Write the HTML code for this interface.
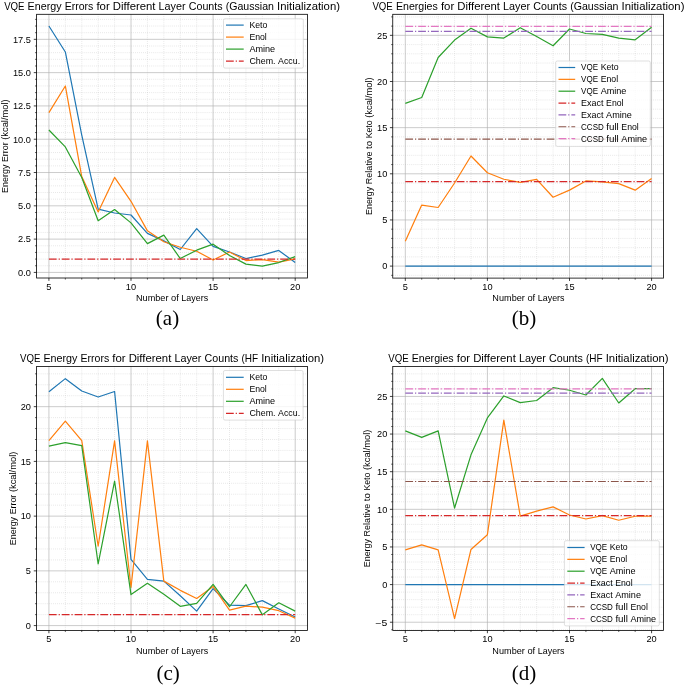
<!DOCTYPE html>
<html><head><meta charset="utf-8"><title>VQE Energy Errors</title>
<style>
html,body{margin:0;padding:0;background:#fff;}
body{width:685px;height:685px;overflow:hidden;}
svg{display:block;font-family:"Liberation Sans",sans-serif;will-change:transform;}
</style></head><body>
<svg width="685" height="685" viewBox="0 0 685 685">
<rect width="685" height="685" fill="#fff"/>
<clipPath id="c36_14"><rect x="36.6" y="14.3" width="270.9" height="263.7"/></clipPath>
<path d="M65.33 14.30V278.00M81.75 14.30V278.00M98.17 14.30V278.00M114.59 14.30V278.00M147.42 14.30V278.00M163.84 14.30V278.00M180.26 14.30V278.00M196.68 14.30V278.00M229.51 14.30V278.00M245.93 14.30V278.00M262.35 14.30V278.00M278.77 14.30V278.00M36.60 265.75H307.50M36.60 259.09H307.50M36.60 252.43H307.50M36.60 245.77H307.50M36.60 232.45H307.50M36.60 225.79H307.50M36.60 219.13H307.50M36.60 212.47H307.50M36.60 199.16H307.50M36.60 192.50H307.50M36.60 185.84H307.50M36.60 179.18H307.50M36.60 165.86H307.50M36.60 159.20H307.50M36.60 152.54H307.50M36.60 145.88H307.50M36.60 132.57H307.50M36.60 125.91H307.50M36.60 119.25H307.50M36.60 112.59H307.50M36.60 99.27H307.50M36.60 92.61H307.50M36.60 85.95H307.50M36.60 79.29H307.50M36.60 65.97H307.50M36.60 59.32H307.50M36.60 52.66H307.50M36.60 46.00H307.50M36.60 32.68H307.50M36.60 26.02H307.50M36.60 19.36H307.50" stroke="#b0b0b0" stroke-opacity="0.75" stroke-width="0.55" stroke-dasharray="0.7 1.35" fill="none"/>
<path d="M48.91 14.30V278.00M131.00 14.30V278.00M213.10 14.30V278.00M295.19 14.30V278.00M36.60 272.41H307.50M36.60 239.11H307.50M36.60 205.82H307.50M36.60 172.52H307.50M36.60 139.22H307.50M36.60 105.93H307.50M36.60 72.63H307.50M36.60 39.34H307.50" stroke="#b0b0b0" stroke-width="0.65" fill="none"/>
<g clip-path="url(#c36_14)" fill="none" stroke-width="1.21" stroke-linejoin="round" stroke-linecap="butt">
<polyline points="48.91,26.02 65.33,51.99 81.75,135.23 98.17,209.15 114.59,213.01 131.00,215.01 147.42,233.38 163.84,240.84 180.26,249.50 196.68,228.59 213.10,246.44 229.51,252.03 245.93,258.56 262.35,255.09 278.77,250.43 295.19,262.55" stroke="#1f77b4"/>
<polyline points="48.91,112.59 65.33,85.95 81.75,176.52 98.17,211.94 114.59,177.45 131.00,201.29 147.42,230.85 163.84,241.77 180.26,247.24 196.68,251.23 213.10,260.02 229.51,252.03 245.93,260.55 262.35,259.62 278.77,262.15 295.19,258.95" stroke="#ff7f0e"/>
<polyline points="48.91,130.03 65.33,146.95 81.75,177.58 98.17,220.73 114.59,209.54 131.00,222.86 147.42,243.64 163.84,235.12 180.26,258.56 196.68,250.17 213.10,244.17 229.51,255.49 245.93,264.15 262.35,266.15 278.77,262.55 295.19,256.56" stroke="#2ca02c"/>
<path d="M48.91 259.09H295.19" stroke="#d62728" stroke-dasharray="7.76 1.94 1.21 1.94"/>
</g>
<rect x="36.60" y="14.30" width="270.90" height="263.70" fill="none" stroke="#000" stroke-width="0.8"/>
<path d="M48.91 278.00v2.83M131.00 278.00v2.83M213.10 278.00v2.83M295.19 278.00v2.83M36.60 272.41h-2.83M36.60 239.11h-2.83M36.60 205.82h-2.83M36.60 172.52h-2.83M36.60 139.22h-2.83M36.60 105.93h-2.83M36.60 72.63h-2.83M36.60 39.34h-2.83" stroke="#000" stroke-width="0.75" fill="none"/>
<path d="M65.33 278.00v1.62M81.75 278.00v1.62M98.17 278.00v1.62M114.59 278.00v1.62M147.42 278.00v1.62M163.84 278.00v1.62M180.26 278.00v1.62M196.68 278.00v1.62M229.51 278.00v1.62M245.93 278.00v1.62M262.35 278.00v1.62M278.77 278.00v1.62M36.60 265.75h-1.62M36.60 259.09h-1.62M36.60 252.43h-1.62M36.60 245.77h-1.62M36.60 232.45h-1.62M36.60 225.79h-1.62M36.60 219.13h-1.62M36.60 212.47h-1.62M36.60 199.16h-1.62M36.60 192.50h-1.62M36.60 185.84h-1.62M36.60 179.18h-1.62M36.60 165.86h-1.62M36.60 159.20h-1.62M36.60 152.54h-1.62M36.60 145.88h-1.62M36.60 132.57h-1.62M36.60 125.91h-1.62M36.60 119.25h-1.62M36.60 112.59h-1.62M36.60 99.27h-1.62M36.60 92.61h-1.62M36.60 85.95h-1.62M36.60 79.29h-1.62M36.60 65.97h-1.62M36.60 59.32h-1.62M36.60 52.66h-1.62M36.60 46.00h-1.62M36.60 32.68h-1.62M36.60 26.02h-1.62M36.60 19.36h-1.62" stroke="#000" stroke-width="0.6" fill="none"/>
<g font-size="8.55" fill="#000"><text x="46.34" y="289.95" textLength="5.14" lengthAdjust="spacingAndGlyphs">5</text></g>
<g font-size="8.55" fill="#000"><text x="125.86" y="289.95" textLength="10.28" lengthAdjust="spacingAndGlyphs">10</text></g>
<g font-size="8.55" fill="#000"><text x="207.95" y="289.95" textLength="10.28" lengthAdjust="spacingAndGlyphs">15</text></g>
<g font-size="8.55" fill="#000"><text x="290.05" y="289.95" textLength="10.28" lengthAdjust="spacingAndGlyphs">20</text></g>
<g font-size="8.55" fill="#000"><text x="18.09" y="275.71" textLength="12.85" lengthAdjust="spacingAndGlyphs">0.0</text></g>
<g font-size="8.55" fill="#000"><text x="18.09" y="242.41" textLength="12.85" lengthAdjust="spacingAndGlyphs">2.5</text></g>
<g font-size="8.55" fill="#000"><text x="18.09" y="209.12" textLength="12.85" lengthAdjust="spacingAndGlyphs">5.0</text></g>
<g font-size="8.55" fill="#000"><text x="18.09" y="175.82" textLength="12.85" lengthAdjust="spacingAndGlyphs">7.5</text></g>
<g font-size="8.55" fill="#000"><text x="12.95" y="142.52" textLength="17.99" lengthAdjust="spacingAndGlyphs">10.0</text></g>
<g font-size="8.55" fill="#000"><text x="12.95" y="109.23" textLength="17.99" lengthAdjust="spacingAndGlyphs">12.5</text></g>
<g font-size="8.55" fill="#000"><text x="12.95" y="75.93" textLength="17.99" lengthAdjust="spacingAndGlyphs">15.0</text></g>
<g font-size="8.55" fill="#000"><text x="12.95" y="42.64" textLength="17.99" lengthAdjust="spacingAndGlyphs">17.5</text></g>
<g font-size="10.25" fill="#000"><text x="4.13" y="9.70" textLength="20.40" lengthAdjust="spacingAndGlyphs">VQE</text><text x="27.61" y="9.70" textLength="33.96" lengthAdjust="spacingAndGlyphs">Energy</text><text x="64.65" y="9.70" textLength="28.70" lengthAdjust="spacingAndGlyphs">Errors</text><text x="96.43" y="9.70" textLength="13.34" lengthAdjust="spacingAndGlyphs">for</text><text x="112.86" y="9.70" textLength="42.66" lengthAdjust="spacingAndGlyphs">Different</text><text x="158.59" y="9.70" textLength="27.04" lengthAdjust="spacingAndGlyphs">Layer</text><text x="188.72" y="9.70" textLength="33.86" lengthAdjust="spacingAndGlyphs">Counts</text><text x="225.67" y="9.70" textLength="48.29" lengthAdjust="spacingAndGlyphs">(Gaussian</text><text x="277.04" y="9.70" textLength="62.94" lengthAdjust="spacingAndGlyphs">Initialization)</text></g>
<g font-size="8.55" fill="#000"><text x="135.99" y="301.10" textLength="32.46" lengthAdjust="spacingAndGlyphs">Number</text><text x="171.02" y="301.10" textLength="7.79" lengthAdjust="spacingAndGlyphs">of</text><text x="181.37" y="301.10" textLength="26.74" lengthAdjust="spacingAndGlyphs">Layers</text></g>
<g transform="rotate(-90 8.30 146.15)" font-size="8.55" fill="#000"><text x="-38.46" y="146.15" textLength="28.29" lengthAdjust="spacingAndGlyphs">Energy</text><text x="-7.61" y="146.15" textLength="19.70" lengthAdjust="spacingAndGlyphs">Error</text><text x="14.66" y="146.15" textLength="40.40" lengthAdjust="spacingAndGlyphs">(kcal/mol)</text></g>
<rect x="223.50" y="18.80" width="79.80" height="49.30" rx="1.6" fill="#fff" fill-opacity="0.8" stroke="#ccc" stroke-opacity="0.8" stroke-width="0.8"/>
<path d="M226.00 25.10H243.70" stroke="#1f77b4" stroke-width="1.21" fill="none"/>
<g font-size="8.55" fill="#000"><text x="249.40" y="27.65" textLength="17.98" lengthAdjust="spacingAndGlyphs">Keto</text></g>
<path d="M226.00 37.10H243.70" stroke="#ff7f0e" stroke-width="1.21" fill="none"/>
<g font-size="8.55" fill="#000"><text x="249.40" y="39.65" textLength="17.41" lengthAdjust="spacingAndGlyphs">Enol</text></g>
<path d="M226.00 49.10H243.70" stroke="#2ca02c" stroke-width="1.21" fill="none"/>
<g font-size="8.55" fill="#000"><text x="249.40" y="51.65" textLength="25.74" lengthAdjust="spacingAndGlyphs">Amine</text></g>
<path d="M226.00 61.10H243.70" stroke="#d62728" stroke-width="1.21" stroke-dasharray="7.76 1.94 1.21 1.94" fill="none"/>
<g font-size="8.55" fill="#000"><text x="249.40" y="63.65" textLength="26.17" lengthAdjust="spacingAndGlyphs">Chem.</text><text x="278.14" y="63.65" textLength="21.96" lengthAdjust="spacingAndGlyphs">Accu.</text></g>
<clipPath id="c393_14"><rect x="393.0" y="14.3" width="270.9" height="263.8"/></clipPath>
<path d="M421.73 14.30V278.10M438.15 14.30V278.10M454.57 14.30V278.10M470.99 14.30V278.10M503.82 14.30V278.10M520.24 14.30V278.10M536.66 14.30V278.10M553.08 14.30V278.10M585.91 14.30V278.10M602.33 14.30V278.10M618.75 14.30V278.10M635.17 14.30V278.10M393.00 275.33H663.90M393.00 256.87H663.90M393.00 247.64H663.90M393.00 238.41H663.90M393.00 229.18H663.90M393.00 210.72H663.90M393.00 201.49H663.90M393.00 192.26H663.90M393.00 183.03H663.90M393.00 164.57H663.90M393.00 155.34H663.90M393.00 146.11H663.90M393.00 136.88H663.90M393.00 118.42H663.90M393.00 109.19H663.90M393.00 99.96H663.90M393.00 90.73H663.90M393.00 72.27H663.90M393.00 63.04H663.90M393.00 53.81H663.90M393.00 44.58H663.90M393.00 26.11H663.90M393.00 16.88H663.90" stroke="#b0b0b0" stroke-opacity="0.75" stroke-width="0.55" stroke-dasharray="0.7 1.35" fill="none"/>
<path d="M405.31 14.30V278.10M487.40 14.30V278.10M569.50 14.30V278.10M651.59 14.30V278.10M393.00 266.10H663.90M393.00 219.95H663.90M393.00 173.80H663.90M393.00 127.65H663.90M393.00 81.50H663.90M393.00 35.34H663.90" stroke="#b0b0b0" stroke-width="0.65" fill="none"/>
<g clip-path="url(#c393_14)" fill="none" stroke-width="1.21" stroke-linejoin="round" stroke-linecap="butt">
<polyline points="405.31,266.10 421.73,266.10 438.15,266.10 454.57,266.10 470.99,266.10 487.40,266.10 503.82,266.10 520.24,266.10 536.66,266.10 553.08,266.10 569.50,266.10 585.91,266.10 602.33,266.10 618.75,266.10 635.17,266.10 651.59,266.10" stroke="#1f77b4"/>
<polyline points="405.31,241.27 421.73,205.09 438.15,207.49 454.57,183.03 470.99,155.98 487.40,172.78 503.82,179.24 520.24,182.38 536.66,179.43 553.08,197.24 569.50,190.14 585.91,180.91 602.33,181.92 618.75,183.58 635.17,190.14 651.59,178.41" stroke="#ff7f0e"/>
<polyline points="405.31,103.37 421.73,97.46 438.15,57.50 454.57,40.05 470.99,28.33 487.40,36.91 503.82,38.11 520.24,27.68 536.66,36.54 553.08,45.78 569.50,28.98 585.91,33.50 602.33,34.42 618.75,38.11 635.17,39.78 651.59,27.31" stroke="#2ca02c"/>
<path d="M405.31 181.55H651.59" stroke="#d62728" stroke-dasharray="7.76 1.94 1.21 1.94"/>
<path d="M405.31 31.47H651.59" stroke="#9467bd" stroke-dasharray="7.76 1.94 1.21 1.94"/>
<path d="M405.31 139.09H651.59" stroke="#8c564b" stroke-dasharray="7.76 1.94 1.21 1.94"/>
<path d="M405.31 26.39H651.59" stroke="#e377c2" stroke-dasharray="7.76 1.94 1.21 1.94"/>
</g>
<rect x="392.75" y="14.30" width="270.75" height="263.80" fill="none" stroke="#000" stroke-width="0.8"/>
<path d="M405.31 278.10v2.83M487.40 278.10v2.83M569.50 278.10v2.83M651.59 278.10v2.83M392.75 266.10h-2.83M392.75 219.95h-2.83M392.75 173.80h-2.83M392.75 127.65h-2.83M392.75 81.50h-2.83M392.75 35.34h-2.83" stroke="#000" stroke-width="0.75" fill="none"/>
<path d="M421.73 278.10v1.62M438.15 278.10v1.62M454.57 278.10v1.62M470.99 278.10v1.62M503.82 278.10v1.62M520.24 278.10v1.62M536.66 278.10v1.62M553.08 278.10v1.62M585.91 278.10v1.62M602.33 278.10v1.62M618.75 278.10v1.62M635.17 278.10v1.62M392.75 275.33h-1.62M392.75 256.87h-1.62M392.75 247.64h-1.62M392.75 238.41h-1.62M392.75 229.18h-1.62M392.75 210.72h-1.62M392.75 201.49h-1.62M392.75 192.26h-1.62M392.75 183.03h-1.62M392.75 164.57h-1.62M392.75 155.34h-1.62M392.75 146.11h-1.62M392.75 136.88h-1.62M392.75 118.42h-1.62M392.75 109.19h-1.62M392.75 99.96h-1.62M392.75 90.73h-1.62M392.75 72.27h-1.62M392.75 63.04h-1.62M392.75 53.81h-1.62M392.75 44.58h-1.62M392.75 26.11h-1.62M392.75 16.88h-1.62" stroke="#000" stroke-width="0.6" fill="none"/>
<g font-size="8.55" fill="#000"><text x="402.74" y="290.05" textLength="5.14" lengthAdjust="spacingAndGlyphs">5</text></g>
<g font-size="8.55" fill="#000"><text x="482.26" y="290.05" textLength="10.28" lengthAdjust="spacingAndGlyphs">10</text></g>
<g font-size="8.55" fill="#000"><text x="564.35" y="290.05" textLength="10.28" lengthAdjust="spacingAndGlyphs">15</text></g>
<g font-size="8.55" fill="#000"><text x="646.45" y="290.05" textLength="10.28" lengthAdjust="spacingAndGlyphs">20</text></g>
<g font-size="8.55" fill="#000"><text x="382.20" y="269.40" textLength="5.14" lengthAdjust="spacingAndGlyphs">0</text></g>
<g font-size="8.55" fill="#000"><text x="382.20" y="223.25" textLength="5.14" lengthAdjust="spacingAndGlyphs">5</text></g>
<g font-size="8.55" fill="#000"><text x="377.06" y="177.10" textLength="10.28" lengthAdjust="spacingAndGlyphs">10</text></g>
<g font-size="8.55" fill="#000"><text x="377.06" y="130.95" textLength="10.28" lengthAdjust="spacingAndGlyphs">15</text></g>
<g font-size="8.55" fill="#000"><text x="377.06" y="84.80" textLength="10.28" lengthAdjust="spacingAndGlyphs">20</text></g>
<g font-size="8.55" fill="#000"><text x="377.06" y="38.64" textLength="10.28" lengthAdjust="spacingAndGlyphs">25</text></g>
<g font-size="10.25" fill="#000"><text x="372.43" y="9.70" textLength="20.40" lengthAdjust="spacingAndGlyphs">VQE</text><text x="395.91" y="9.70" textLength="41.94" lengthAdjust="spacingAndGlyphs">Energies</text><text x="440.93" y="9.70" textLength="13.34" lengthAdjust="spacingAndGlyphs">for</text><text x="457.35" y="9.70" textLength="42.66" lengthAdjust="spacingAndGlyphs">Different</text><text x="503.09" y="9.70" textLength="27.04" lengthAdjust="spacingAndGlyphs">Layer</text><text x="533.22" y="9.70" textLength="33.86" lengthAdjust="spacingAndGlyphs">Counts</text><text x="570.16" y="9.70" textLength="48.29" lengthAdjust="spacingAndGlyphs">(Gaussian</text><text x="621.53" y="9.70" textLength="62.94" lengthAdjust="spacingAndGlyphs">Initialization)</text></g>
<g font-size="8.55" fill="#000"><text x="492.39" y="301.20" textLength="32.46" lengthAdjust="spacingAndGlyphs">Number</text><text x="527.42" y="301.20" textLength="7.79" lengthAdjust="spacingAndGlyphs">of</text><text x="537.77" y="301.20" textLength="26.74" lengthAdjust="spacingAndGlyphs">Layers</text></g>
<g transform="rotate(-90 371.90 146.20)" font-size="8.55" fill="#000"><text x="303.08" y="146.20" textLength="28.29" lengthAdjust="spacingAndGlyphs">Energy</text><text x="333.94" y="146.20" textLength="32.58" lengthAdjust="spacingAndGlyphs">Relative</text><text x="369.09" y="146.20" textLength="8.11" lengthAdjust="spacingAndGlyphs">to</text><text x="379.77" y="146.20" textLength="17.98" lengthAdjust="spacingAndGlyphs">Keto</text><text x="400.32" y="146.20" textLength="40.40" lengthAdjust="spacingAndGlyphs">(kcal/mol)</text></g>
<rect x="555.70" y="61.00" width="94.60" height="85.40" rx="1.6" fill="#fff" fill-opacity="0.8" stroke="#ccc" stroke-opacity="0.8" stroke-width="0.8"/>
<path d="M558.50 67.50H575.20" stroke="#1f77b4" stroke-width="1.21" fill="none"/>
<g font-size="8.55" fill="#000"><text x="581.10" y="70.45" textLength="16.99" lengthAdjust="spacingAndGlyphs">VQE</text><text x="600.66" y="70.45" textLength="17.98" lengthAdjust="spacingAndGlyphs">Keto</text></g>
<path d="M558.50 79.35H575.20" stroke="#ff7f0e" stroke-width="1.21" fill="none"/>
<g font-size="8.55" fill="#000"><text x="581.10" y="82.30" textLength="16.99" lengthAdjust="spacingAndGlyphs">VQE</text><text x="600.66" y="82.30" textLength="17.41" lengthAdjust="spacingAndGlyphs">Enol</text></g>
<path d="M558.50 91.20H575.20" stroke="#2ca02c" stroke-width="1.21" fill="none"/>
<g font-size="8.55" fill="#000"><text x="581.10" y="94.15" textLength="16.99" lengthAdjust="spacingAndGlyphs">VQE</text><text x="600.66" y="94.15" textLength="25.74" lengthAdjust="spacingAndGlyphs">Amine</text></g>
<path d="M558.50 103.05H575.20" stroke="#d62728" stroke-width="1.21" stroke-dasharray="7.76 1.94 1.21 1.94" fill="none"/>
<g font-size="8.55" fill="#000"><text x="581.10" y="106.00" textLength="22.45" lengthAdjust="spacingAndGlyphs">Exact</text><text x="606.12" y="106.00" textLength="17.41" lengthAdjust="spacingAndGlyphs">Enol</text></g>
<path d="M558.50 114.90H575.20" stroke="#9467bd" stroke-width="1.21" stroke-dasharray="7.76 1.94 1.21 1.94" fill="none"/>
<g font-size="8.55" fill="#000"><text x="581.10" y="117.85" textLength="22.45" lengthAdjust="spacingAndGlyphs">Exact</text><text x="606.12" y="117.85" textLength="25.74" lengthAdjust="spacingAndGlyphs">Amine</text></g>
<path d="M558.50 126.75H575.20" stroke="#8c564b" stroke-width="1.21" stroke-dasharray="7.76 1.94 1.21 1.94" fill="none"/>
<g font-size="8.55" fill="#000"><text x="581.10" y="129.70" textLength="22.63" lengthAdjust="spacingAndGlyphs">CCSD</text><text x="606.30" y="129.70" textLength="12.46" lengthAdjust="spacingAndGlyphs">full</text><text x="621.33" y="129.70" textLength="17.41" lengthAdjust="spacingAndGlyphs">Enol</text></g>
<path d="M558.50 138.60H575.20" stroke="#e377c2" stroke-width="1.21" stroke-dasharray="7.76 1.94 1.21 1.94" fill="none"/>
<g font-size="8.55" fill="#000"><text x="581.10" y="141.55" textLength="22.63" lengthAdjust="spacingAndGlyphs">CCSD</text><text x="606.30" y="141.55" textLength="12.46" lengthAdjust="spacingAndGlyphs">full</text><text x="621.33" y="141.55" textLength="25.74" lengthAdjust="spacingAndGlyphs">Amine</text></g>
<clipPath id="c36_366"><rect x="36.6" y="366.5" width="270.9" height="263.9"/></clipPath>
<path d="M65.33 366.50V630.40M81.75 366.50V630.40M98.17 366.50V630.40M114.59 366.50V630.40M147.42 366.50V630.40M163.84 366.50V630.40M180.26 366.50V630.40M196.68 366.50V630.40M229.51 366.50V630.40M245.93 366.50V630.40M262.35 366.50V630.40M278.77 366.50V630.40M36.60 614.64H307.50M36.60 603.69H307.50M36.60 592.75H307.50M36.60 581.80H307.50M36.60 559.91H307.50M36.60 548.96H307.50M36.60 538.02H307.50M36.60 527.07H307.50M36.60 505.18H307.50M36.60 494.24H307.50M36.60 483.29H307.50M36.60 472.34H307.50M36.60 450.45H307.50M36.60 439.51H307.50M36.60 428.56H307.50M36.60 417.62H307.50M36.60 395.72H307.50M36.60 384.78H307.50M36.60 373.83H307.50" stroke="#b0b0b0" stroke-opacity="0.75" stroke-width="0.55" stroke-dasharray="0.7 1.35" fill="none"/>
<path d="M48.91 366.50V630.40M131.00 366.50V630.40M213.10 366.50V630.40M295.19 366.50V630.40M36.60 625.58H307.50M36.60 570.86H307.50M36.60 516.13H307.50M36.60 461.40H307.50M36.60 406.67H307.50" stroke="#b0b0b0" stroke-width="0.65" fill="none"/>
<g clip-path="url(#c36_366)" fill="none" stroke-width="1.21" stroke-linejoin="round" stroke-linecap="butt">
<polyline points="48.91,391.68 65.33,378.65 81.75,391.02 98.17,397.04 114.59,391.46 131.00,559.47 147.42,579.28 163.84,581.14 180.26,595.81 196.68,611.14 213.10,588.59 229.51,605.22 245.93,605.66 262.35,600.63 278.77,608.95 295.19,617.05" stroke="#1f77b4"/>
<polyline points="48.91,440.60 65.33,421.12 81.75,440.60 98.17,546.23 114.59,440.93 131.00,587.49 147.42,440.93 163.84,581.14 180.26,590.34 196.68,598.44 213.10,586.40 229.51,610.04 245.93,606.10 262.35,607.20 278.77,610.70 295.19,618.14" stroke="#ff7f0e"/>
<polyline points="48.91,446.07 65.33,442.57 81.75,445.64 98.17,563.96 114.59,481.10 131.00,594.61 147.42,583.33 163.84,594.28 180.26,606.32 196.68,603.47 213.10,584.43 229.51,606.76 245.93,584.43 262.35,614.86 278.77,602.82 295.19,611.14" stroke="#2ca02c"/>
<path d="M48.91 614.64H295.19" stroke="#d62728" stroke-dasharray="7.76 1.94 1.21 1.94"/>
</g>
<rect x="36.60" y="366.50" width="270.90" height="263.90" fill="none" stroke="#000" stroke-width="0.8"/>
<path d="M48.91 630.40v2.83M131.00 630.40v2.83M213.10 630.40v2.83M295.19 630.40v2.83M36.60 625.58h-2.83M36.60 570.86h-2.83M36.60 516.13h-2.83M36.60 461.40h-2.83M36.60 406.67h-2.83" stroke="#000" stroke-width="0.75" fill="none"/>
<path d="M65.33 630.40v1.62M81.75 630.40v1.62M98.17 630.40v1.62M114.59 630.40v1.62M147.42 630.40v1.62M163.84 630.40v1.62M180.26 630.40v1.62M196.68 630.40v1.62M229.51 630.40v1.62M245.93 630.40v1.62M262.35 630.40v1.62M278.77 630.40v1.62M36.60 614.64h-1.62M36.60 603.69h-1.62M36.60 592.75h-1.62M36.60 581.80h-1.62M36.60 559.91h-1.62M36.60 548.96h-1.62M36.60 538.02h-1.62M36.60 527.07h-1.62M36.60 505.18h-1.62M36.60 494.24h-1.62M36.60 483.29h-1.62M36.60 472.34h-1.62M36.60 450.45h-1.62M36.60 439.51h-1.62M36.60 428.56h-1.62M36.60 417.62h-1.62M36.60 395.72h-1.62M36.60 384.78h-1.62M36.60 373.83h-1.62" stroke="#000" stroke-width="0.6" fill="none"/>
<g font-size="8.55" fill="#000"><text x="46.34" y="642.35" textLength="5.14" lengthAdjust="spacingAndGlyphs">5</text></g>
<g font-size="8.55" fill="#000"><text x="125.86" y="642.35" textLength="10.28" lengthAdjust="spacingAndGlyphs">10</text></g>
<g font-size="8.55" fill="#000"><text x="207.95" y="642.35" textLength="10.28" lengthAdjust="spacingAndGlyphs">15</text></g>
<g font-size="8.55" fill="#000"><text x="290.05" y="642.35" textLength="10.28" lengthAdjust="spacingAndGlyphs">20</text></g>
<g font-size="8.55" fill="#000"><text x="25.80" y="628.88" textLength="5.14" lengthAdjust="spacingAndGlyphs">0</text></g>
<g font-size="8.55" fill="#000"><text x="25.80" y="574.16" textLength="5.14" lengthAdjust="spacingAndGlyphs">5</text></g>
<g font-size="8.55" fill="#000"><text x="20.66" y="519.43" textLength="10.28" lengthAdjust="spacingAndGlyphs">10</text></g>
<g font-size="8.55" fill="#000"><text x="20.66" y="464.70" textLength="10.28" lengthAdjust="spacingAndGlyphs">15</text></g>
<g font-size="8.55" fill="#000"><text x="20.66" y="409.97" textLength="10.28" lengthAdjust="spacingAndGlyphs">20</text></g>
<g font-size="10.25" fill="#000"><text x="19.94" y="361.90" textLength="20.40" lengthAdjust="spacingAndGlyphs">VQE</text><text x="43.43" y="361.90" textLength="33.96" lengthAdjust="spacingAndGlyphs">Energy</text><text x="80.47" y="361.90" textLength="28.70" lengthAdjust="spacingAndGlyphs">Errors</text><text x="112.25" y="361.90" textLength="13.34" lengthAdjust="spacingAndGlyphs">for</text><text x="128.67" y="361.90" textLength="42.66" lengthAdjust="spacingAndGlyphs">Different</text><text x="174.41" y="361.90" textLength="27.04" lengthAdjust="spacingAndGlyphs">Layer</text><text x="204.54" y="361.90" textLength="33.86" lengthAdjust="spacingAndGlyphs">Counts</text><text x="241.48" y="361.90" textLength="16.66" lengthAdjust="spacingAndGlyphs">(HF</text><text x="261.22" y="361.90" textLength="62.94" lengthAdjust="spacingAndGlyphs">Initialization)</text></g>
<g font-size="8.55" fill="#000"><text x="135.99" y="653.50" textLength="32.46" lengthAdjust="spacingAndGlyphs">Number</text><text x="171.02" y="653.50" textLength="7.79" lengthAdjust="spacingAndGlyphs">of</text><text x="181.37" y="653.50" textLength="26.74" lengthAdjust="spacingAndGlyphs">Layers</text></g>
<g transform="rotate(-90 16.00 498.45)" font-size="8.55" fill="#000"><text x="-30.76" y="498.45" textLength="28.29" lengthAdjust="spacingAndGlyphs">Energy</text><text x="0.09" y="498.45" textLength="19.70" lengthAdjust="spacingAndGlyphs">Error</text><text x="22.36" y="498.45" textLength="40.40" lengthAdjust="spacingAndGlyphs">(kcal/mol)</text></g>
<rect x="223.40" y="370.50" width="79.70" height="49.60" rx="1.6" fill="#fff" fill-opacity="0.8" stroke="#ccc" stroke-opacity="0.8" stroke-width="0.8"/>
<path d="M226.00 377.30H243.70" stroke="#1f77b4" stroke-width="1.21" fill="none"/>
<g font-size="8.55" fill="#000"><text x="249.40" y="379.85" textLength="17.98" lengthAdjust="spacingAndGlyphs">Keto</text></g>
<path d="M226.00 389.30H243.70" stroke="#ff7f0e" stroke-width="1.21" fill="none"/>
<g font-size="8.55" fill="#000"><text x="249.40" y="391.85" textLength="17.41" lengthAdjust="spacingAndGlyphs">Enol</text></g>
<path d="M226.00 401.30H243.70" stroke="#2ca02c" stroke-width="1.21" fill="none"/>
<g font-size="8.55" fill="#000"><text x="249.40" y="403.85" textLength="25.74" lengthAdjust="spacingAndGlyphs">Amine</text></g>
<path d="M226.00 413.30H243.70" stroke="#d62728" stroke-width="1.21" stroke-dasharray="7.76 1.94 1.21 1.94" fill="none"/>
<g font-size="8.55" fill="#000"><text x="249.40" y="415.85" textLength="26.17" lengthAdjust="spacingAndGlyphs">Chem.</text><text x="278.14" y="415.85" textLength="21.96" lengthAdjust="spacingAndGlyphs">Accu.</text></g>
<clipPath id="c393_366"><rect x="393.0" y="366.4" width="270.9" height="264.1"/></clipPath>
<path d="M421.73 366.40V630.50M438.15 366.40V630.50M454.57 366.40V630.50M470.99 366.40V630.50M503.82 366.40V630.50M520.24 366.40V630.50M536.66 366.40V630.50M553.08 366.40V630.50M585.91 366.40V630.50M602.33 366.40V630.50M618.75 366.40V630.50M635.17 366.40V630.50M393.00 629.75H663.90M393.00 614.69H663.90M393.00 607.17H663.90M393.00 599.64H663.90M393.00 592.12H663.90M393.00 577.06H663.90M393.00 569.54H663.90M393.00 562.01H663.90M393.00 554.48H663.90M393.00 539.43H663.90M393.00 531.90H663.90M393.00 524.38H663.90M393.00 516.85H663.90M393.00 501.80H663.90M393.00 494.27H663.90M393.00 486.75H663.90M393.00 479.22H663.90M393.00 464.17H663.90M393.00 456.64H663.90M393.00 449.11H663.90M393.00 441.59H663.90M393.00 426.54H663.90M393.00 419.01H663.90M393.00 411.48H663.90M393.00 403.96H663.90M393.00 388.90H663.90M393.00 381.38H663.90M393.00 373.85H663.90" stroke="#b0b0b0" stroke-opacity="0.75" stroke-width="0.55" stroke-dasharray="0.7 1.35" fill="none"/>
<path d="M405.31 366.40V630.50M487.40 366.40V630.50M569.50 366.40V630.50M651.59 366.40V630.50M393.00 622.22H663.90M393.00 584.59H663.90M393.00 546.96H663.90M393.00 509.33H663.90M393.00 471.69H663.90M393.00 434.06H663.90M393.00 396.43H663.90" stroke="#b0b0b0" stroke-width="0.65" fill="none"/>
<g clip-path="url(#c393_366)" fill="none" stroke-width="1.21" stroke-linejoin="round" stroke-linecap="butt">
<polyline points="405.31,584.59 421.73,584.59 438.15,584.59 454.57,584.59 470.99,584.59 487.40,584.59 503.82,584.59 520.24,584.59 536.66,584.59 553.08,584.59 569.50,584.59 585.91,584.59 602.33,584.59 618.75,584.59 635.17,584.59 651.59,584.59" stroke="#1f77b4"/>
<polyline points="405.31,549.82 421.73,544.93 438.15,549.82 454.57,618.53 470.99,549.44 487.40,534.69 503.82,420.06 520.24,516.10 536.66,511.06 553.08,506.84 569.50,514.97 585.91,519.03 602.33,515.57 618.75,520.24 635.17,516.25 651.59,516.10" stroke="#ff7f0e"/>
<polyline points="405.31,430.83 421.73,437.37 438.15,430.83 454.57,508.05 470.99,454.83 487.40,417.96 503.82,395.98 520.24,402.60 536.66,400.49 553.08,387.70 569.50,390.26 585.91,395.00 602.33,378.44 618.75,402.98 635.17,388.68 651.59,388.68" stroke="#2ca02c"/>
<path d="M405.31 515.57H651.59" stroke="#d62728" stroke-dasharray="7.76 1.94 1.21 1.94"/>
<path d="M405.31 393.19H651.59" stroke="#9467bd" stroke-dasharray="7.76 1.94 1.21 1.94"/>
<path d="M405.31 481.48H651.59" stroke="#8c564b" stroke-dasharray="7.76 1.94 1.21 1.94"/>
<path d="M405.31 388.90H651.59" stroke="#e377c2" stroke-dasharray="7.76 1.94 1.21 1.94"/>
</g>
<rect x="392.75" y="366.40" width="270.65" height="264.00" fill="none" stroke="#000" stroke-width="0.8"/>
<path d="M405.31 630.40v2.83M487.40 630.40v2.83M569.50 630.40v2.83M651.59 630.40v2.83M392.75 622.22h-2.83M392.75 584.59h-2.83M392.75 546.96h-2.83M392.75 509.33h-2.83M392.75 471.69h-2.83M392.75 434.06h-2.83M392.75 396.43h-2.83" stroke="#000" stroke-width="0.75" fill="none"/>
<path d="M421.73 630.40v1.62M438.15 630.40v1.62M454.57 630.40v1.62M470.99 630.40v1.62M503.82 630.40v1.62M520.24 630.40v1.62M536.66 630.40v1.62M553.08 630.40v1.62M585.91 630.40v1.62M602.33 630.40v1.62M618.75 630.40v1.62M635.17 630.40v1.62M392.75 629.75h-1.62M392.75 614.69h-1.62M392.75 607.17h-1.62M392.75 599.64h-1.62M392.75 592.12h-1.62M392.75 577.06h-1.62M392.75 569.54h-1.62M392.75 562.01h-1.62M392.75 554.48h-1.62M392.75 539.43h-1.62M392.75 531.90h-1.62M392.75 524.38h-1.62M392.75 516.85h-1.62M392.75 501.80h-1.62M392.75 494.27h-1.62M392.75 486.75h-1.62M392.75 479.22h-1.62M392.75 464.17h-1.62M392.75 456.64h-1.62M392.75 449.11h-1.62M392.75 441.59h-1.62M392.75 426.54h-1.62M392.75 419.01h-1.62M392.75 411.48h-1.62M392.75 403.96h-1.62M392.75 388.90h-1.62M392.75 381.38h-1.62M392.75 373.85h-1.62" stroke="#000" stroke-width="0.6" fill="none"/>
<g font-size="8.55" fill="#000"><text x="402.74" y="642.45" textLength="5.14" lengthAdjust="spacingAndGlyphs">5</text></g>
<g font-size="8.55" fill="#000"><text x="482.26" y="642.45" textLength="10.28" lengthAdjust="spacingAndGlyphs">10</text></g>
<g font-size="8.55" fill="#000"><text x="564.35" y="642.45" textLength="10.28" lengthAdjust="spacingAndGlyphs">15</text></g>
<g font-size="8.55" fill="#000"><text x="646.45" y="642.45" textLength="10.28" lengthAdjust="spacingAndGlyphs">20</text></g>
<g font-size="8.55" fill="#000"><text x="375.43" y="625.52" textLength="11.91" lengthAdjust="spacingAndGlyphs">−5</text></g>
<g font-size="8.55" fill="#000"><text x="382.20" y="587.89" textLength="5.14" lengthAdjust="spacingAndGlyphs">0</text></g>
<g font-size="8.55" fill="#000"><text x="382.20" y="550.26" textLength="5.14" lengthAdjust="spacingAndGlyphs">5</text></g>
<g font-size="8.55" fill="#000"><text x="377.06" y="512.63" textLength="10.28" lengthAdjust="spacingAndGlyphs">10</text></g>
<g font-size="8.55" fill="#000"><text x="377.06" y="474.99" textLength="10.28" lengthAdjust="spacingAndGlyphs">15</text></g>
<g font-size="8.55" fill="#000"><text x="377.06" y="437.36" textLength="10.28" lengthAdjust="spacingAndGlyphs">20</text></g>
<g font-size="8.55" fill="#000"><text x="377.06" y="399.73" textLength="10.28" lengthAdjust="spacingAndGlyphs">25</text></g>
<g font-size="10.25" fill="#000"><text x="388.25" y="361.80" textLength="20.40" lengthAdjust="spacingAndGlyphs">VQE</text><text x="411.73" y="361.80" textLength="41.94" lengthAdjust="spacingAndGlyphs">Energies</text><text x="456.75" y="361.80" textLength="13.34" lengthAdjust="spacingAndGlyphs">for</text><text x="473.17" y="361.80" textLength="42.66" lengthAdjust="spacingAndGlyphs">Different</text><text x="518.91" y="361.80" textLength="27.04" lengthAdjust="spacingAndGlyphs">Layer</text><text x="549.03" y="361.80" textLength="33.86" lengthAdjust="spacingAndGlyphs">Counts</text><text x="585.98" y="361.80" textLength="16.66" lengthAdjust="spacingAndGlyphs">(HF</text><text x="605.72" y="361.80" textLength="62.94" lengthAdjust="spacingAndGlyphs">Initialization)</text></g>
<g font-size="8.55" fill="#000"><text x="492.39" y="653.60" textLength="32.46" lengthAdjust="spacingAndGlyphs">Number</text><text x="527.42" y="653.60" textLength="7.79" lengthAdjust="spacingAndGlyphs">of</text><text x="537.77" y="653.60" textLength="26.74" lengthAdjust="spacingAndGlyphs">Layers</text></g>
<g transform="rotate(-90 370.40 498.45)" font-size="8.55" fill="#000"><text x="301.58" y="498.45" textLength="28.29" lengthAdjust="spacingAndGlyphs">Energy</text><text x="332.44" y="498.45" textLength="32.58" lengthAdjust="spacingAndGlyphs">Relative</text><text x="367.59" y="498.45" textLength="8.11" lengthAdjust="spacingAndGlyphs">to</text><text x="378.27" y="498.45" textLength="17.98" lengthAdjust="spacingAndGlyphs">Keto</text><text x="398.82" y="498.45" textLength="40.40" lengthAdjust="spacingAndGlyphs">(kcal/mol)</text></g>
<rect x="564.40" y="540.70" width="94.90" height="85.20" rx="1.6" fill="#fff" fill-opacity="0.8" stroke="#ccc" stroke-opacity="0.8" stroke-width="0.8"/>
<path d="M567.30 547.50H584.60" stroke="#1f77b4" stroke-width="1.21" fill="none"/>
<g font-size="8.55" fill="#000"><text x="590.20" y="550.45" textLength="16.99" lengthAdjust="spacingAndGlyphs">VQE</text><text x="609.76" y="550.45" textLength="17.98" lengthAdjust="spacingAndGlyphs">Keto</text></g>
<path d="M567.30 559.35H584.60" stroke="#ff7f0e" stroke-width="1.21" fill="none"/>
<g font-size="8.55" fill="#000"><text x="590.20" y="562.30" textLength="16.99" lengthAdjust="spacingAndGlyphs">VQE</text><text x="609.76" y="562.30" textLength="17.41" lengthAdjust="spacingAndGlyphs">Enol</text></g>
<path d="M567.30 571.20H584.60" stroke="#2ca02c" stroke-width="1.21" fill="none"/>
<g font-size="8.55" fill="#000"><text x="590.20" y="574.15" textLength="16.99" lengthAdjust="spacingAndGlyphs">VQE</text><text x="609.76" y="574.15" textLength="25.74" lengthAdjust="spacingAndGlyphs">Amine</text></g>
<path d="M567.30 583.05H584.60" stroke="#d62728" stroke-width="1.21" stroke-dasharray="7.76 1.94 1.21 1.94" fill="none"/>
<g font-size="8.55" fill="#000"><text x="590.20" y="586.00" textLength="22.45" lengthAdjust="spacingAndGlyphs">Exact</text><text x="615.22" y="586.00" textLength="17.41" lengthAdjust="spacingAndGlyphs">Enol</text></g>
<path d="M567.30 594.90H584.60" stroke="#9467bd" stroke-width="1.21" stroke-dasharray="7.76 1.94 1.21 1.94" fill="none"/>
<g font-size="8.55" fill="#000"><text x="590.20" y="597.85" textLength="22.45" lengthAdjust="spacingAndGlyphs">Exact</text><text x="615.22" y="597.85" textLength="25.74" lengthAdjust="spacingAndGlyphs">Amine</text></g>
<path d="M567.30 606.75H584.60" stroke="#8c564b" stroke-width="1.21" stroke-dasharray="7.76 1.94 1.21 1.94" fill="none"/>
<g font-size="8.55" fill="#000"><text x="590.20" y="609.70" textLength="22.63" lengthAdjust="spacingAndGlyphs">CCSD</text><text x="615.40" y="609.70" textLength="12.46" lengthAdjust="spacingAndGlyphs">full</text><text x="630.43" y="609.70" textLength="17.41" lengthAdjust="spacingAndGlyphs">Enol</text></g>
<path d="M567.30 618.60H584.60" stroke="#e377c2" stroke-width="1.21" stroke-dasharray="7.76 1.94 1.21 1.94" fill="none"/>
<g font-size="8.55" fill="#000"><text x="590.20" y="621.55" textLength="22.63" lengthAdjust="spacingAndGlyphs">CCSD</text><text x="615.40" y="621.55" textLength="12.46" lengthAdjust="spacingAndGlyphs">full</text><text x="630.43" y="621.55" textLength="25.74" lengthAdjust="spacingAndGlyphs">Amine</text></g>
<text x="167.5" y="324.6" font-family="Liberation Serif, serif" font-size="21" text-anchor="middle" fill="#000">(a)</text>
<text x="524.1" y="324.6" font-family="Liberation Serif, serif" font-size="21" text-anchor="middle" fill="#000">(b)</text>
<text x="168.05" y="679.5" font-family="Liberation Serif, serif" font-size="21" text-anchor="middle" fill="#000">(c)</text>
<text x="524.1" y="679.5" font-family="Liberation Serif, serif" font-size="21" text-anchor="middle" fill="#000">(d)</text>
</svg>
</body></html>
